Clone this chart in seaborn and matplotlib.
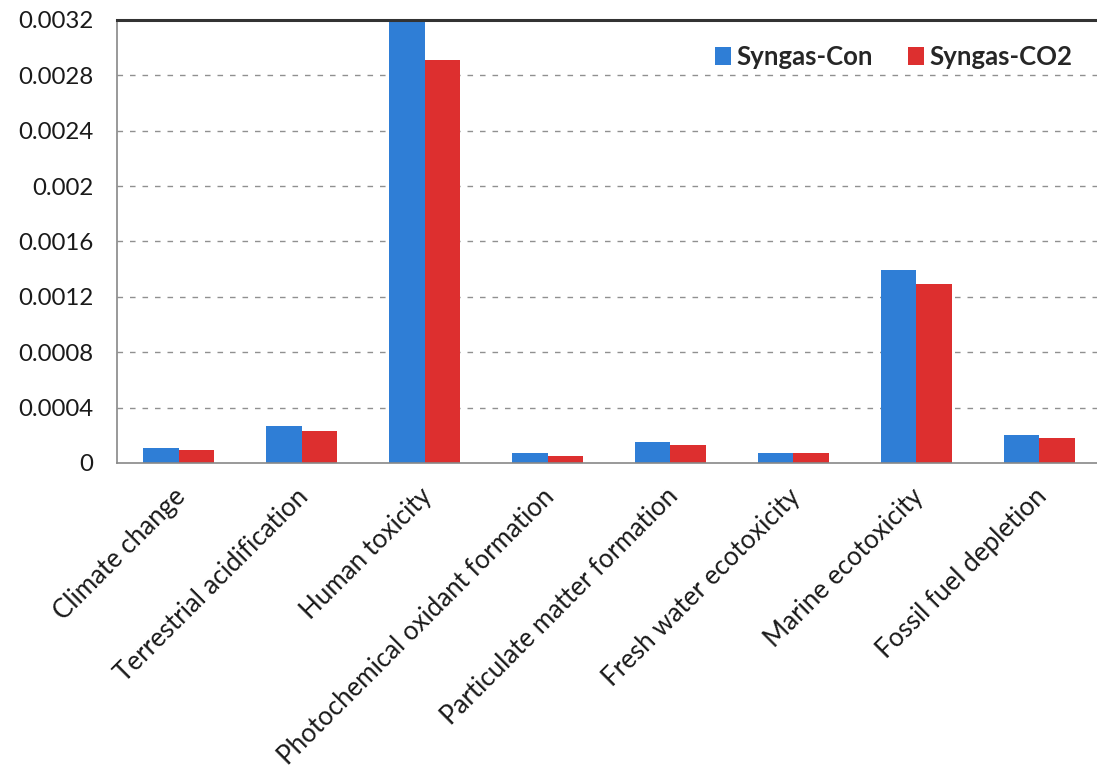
import matplotlib
matplotlib.use("Agg")
import matplotlib.pyplot as plt
import matplotlib.transforms as mtransforms
import seaborn as sns
import pandas as pd
from matplotlib.ticker import FixedLocator

categories = [
    "Climate change",
    "Terrestrial acidification",
    "Human toxicity",
    "Photochemical oxidant formation",
    "Particulate matter formation",
    "Fresh water ecotoxicity",
    "Marine ecotoxicity",
    "Fossil fuel depletion",
]
syngas_con = [0.000108, 0.000267, 0.0032, 0.000070, 0.000154, 0.000070, 0.001394, 0.000202]
syngas_co2 = [0.000094, 0.000231, 0.00291, 0.000053, 0.000130, 0.000070, 0.00129, 0.000178]
series_names = ["Syngas-Con", "Syngas-CO2"]
y_ticks = [0, 0.0004, 0.0008, 0.0012, 0.0016, 0.002, 0.0024, 0.0028, 0.0032]
y_tick_labels = ["0", "0.0004", "0.0008", "0.0012", "0.0016", "0.002", "0.0024", "0.0028", "0.0032"]

df = pd.DataFrame({
    "category": categories * 2,
    "value": syngas_con + syngas_co2,
    "series": [series_names[0]] * len(categories) + [series_names[1]] * len(categories),
})

sns.set_style("white")
plt.rcParams["font.family"] = ["Lato", "DejaVu Sans"]

fig = plt.figure(figsize=(10.97, 7.78), dpi=100)
ax = fig.add_axes([0.1067, 0.4049, 0.8969, 0.5694])

sns.barplot(
    data=df, x="category", y="value", hue="series",
    palette=["#2F7ED6", "#DD2F2F"], width=0.57, gap=0,
    saturation=1, linewidth=0, ax=ax, legend=True,
)

ax.set_ylim(0, 0.0032)
ax.set_xlim(-0.5, len(categories) - 0.5)
ax.yaxis.set_major_locator(FixedLocator(y_ticks))
ax.set_yticklabels(y_tick_labels)
ax.tick_params(axis="y", length=0, pad=17, labelsize=17.3, colors="#1a1a1a")

# dashed grid lines, skipping the zero line and the top edge
for t in y_ticks[1:-1]:
    ax.axhline(t, color="#909090", linewidth=1.0, linestyle=(0, (4, 5)), zorder=0)

ax.set_xlabel("")
ax.set_ylabel("")
ax.set_xticks(range(len(categories)))
ax.set_xticklabels(categories, rotation=45, ha="right", va="top", rotation_mode="anchor",
                   fontsize=18.6, color="#1a1a1a")
ax.tick_params(axis="x", which="major", length=0, pad=15)
# nudge the slanted category labels slightly to the left
shift = mtransforms.ScaledTranslation(-4 / 72, 0, fig.dpi_scale_trans)
for lbl in ax.get_xticklabels():
    lbl.set_transform(lbl.get_transform() + shift)
ax.set_xticks([i + 0.5 for i in range(len(categories))], minor=True)
ax.tick_params(axis="x", which="minor", direction="in", length=10, width=1, color="#777777")

for side in ["left", "bottom"]:
    ax.spines[side].set_color("#888888")
    ax.spines[side].set_linewidth(1.2)
ax.spines["top"].set_color("#333333")
ax.spines["top"].set_linewidth(2.2)
ax.spines["right"].set_visible(False)

ax.legend(
    loc="center right", bbox_to_anchor=(0.9705, 0.9165), ncol=2, frameon=False,
    prop={"family": ["Lato", "DejaVu Sans"], "weight": "bold", "size": 18.5},
    handlelength=0.6, handleheight=0.65, handletextpad=0.2, columnspacing=1.4,
    borderpad=0, borderaxespad=0,
)

fig.savefig("out.png", dpi=100)
